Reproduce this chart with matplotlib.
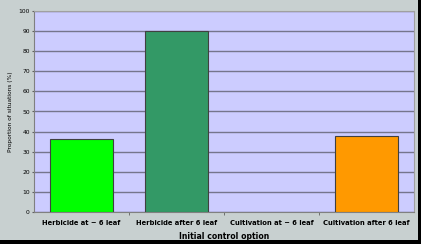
import matplotlib
matplotlib.use('Agg')
import matplotlib.pyplot as plt
from matplotlib.patches import Rectangle

categories = ['Herbicide at ~ 6 leaf', 'Herbicide after 6 leaf',
              'Cultivation at ~ 6 leaf', 'Cultivation after 6 leaf']
values = [36.3, 90.0, 0.0, 37.6]
colors = ['#00FF00', '#339966', '#CCCCFF', '#FF9900']
yticks = list(range(0, 101, 10))

fig = plt.figure(figsize=(4.21, 2.44), dpi=100)
fig.patch.set_facecolor('black')
# grey chart area inside the black frame
fig.patches.append(Rectangle((0, 4 / 244), 418 / 421, 240 / 244,
                             transform=fig.transFigure, facecolor='#C8D0D0',
                             edgecolor='none', zorder=-10))

ax = fig.add_axes([34 / 421, 32 / 244, 380 / 421, 201 / 244])
ax.set_facecolor('#CCCCFF')

x = range(len(categories))
for i, (v, c) in enumerate(zip(values, colors)):
    if v > 0:
        ax.bar(i, v, width=0.67, color=c, edgecolor='#404040', linewidth=0.8, zorder=3)

ax.set_xlim(-0.5, 3.5)
ax.set_ylim(0, 100)
ax.set_yticks(yticks)
ax.set_yticklabels([str(t) for t in yticks], fontsize=4.3)
ax.yaxis.grid(True, color='#75758C', linewidth=1.0, zorder=1)
ax.set_axisbelow(True)

ax.set_xticks([0.5, 1.5, 2.5], minor=True)
ax.set_xticks(list(x))
ax.set_xticklabels(categories, fontsize=4.9, fontweight='bold')
ax.tick_params(axis='x', which='major', length=0, pad=5.5)
ax.tick_params(axis='x', which='minor', length=2, color='#606060')
ax.tick_params(axis='y', length=1.5, pad=1.5, color='#606060')

for side in ['top', 'right']:
    ax.spines[side].set_color('#A0A0A0')
    ax.spines[side].set_linewidth(0.8)
for side in ['left', 'bottom']:
    ax.spines[side].set_color('#808080')
    ax.spines[side].set_linewidth(0.8)

ax.set_ylabel('Proportion of situations (%)', fontsize=4.2, labelpad=4)
ax.set_xlabel('Initial control option', fontsize=5.6, fontweight='bold', labelpad=4.5)

fig.savefig('out.png', dpi=100, facecolor=fig.get_facecolor())
